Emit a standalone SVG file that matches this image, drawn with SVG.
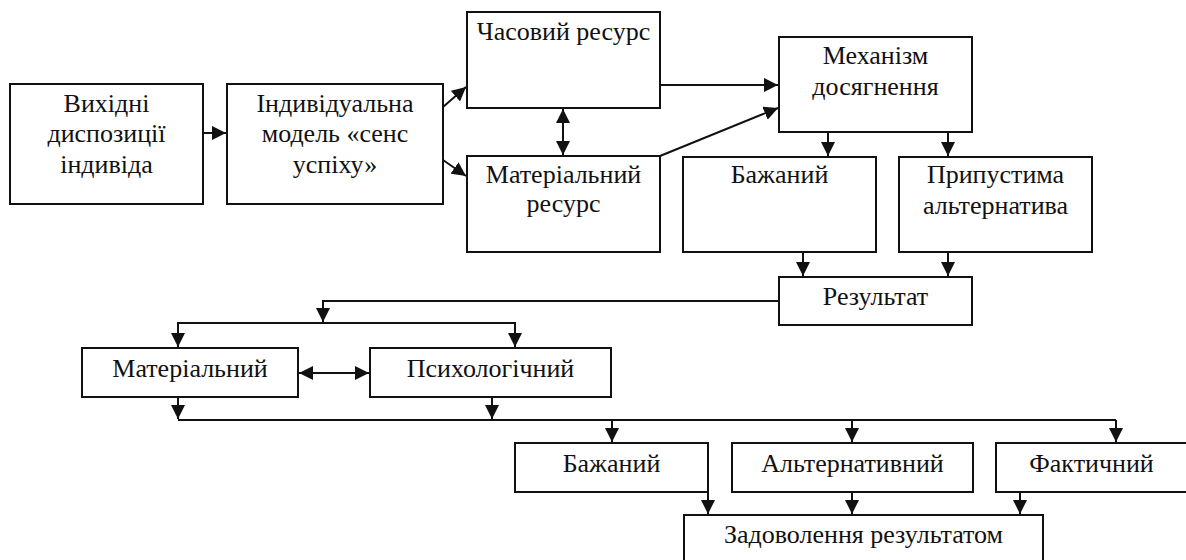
<svg xmlns="http://www.w3.org/2000/svg" width="1186" height="560" viewBox="0 0 1186 560">
<style>
.box{fill:#fff;stroke:#111;stroke-width:2}
.t{font-family:"Liberation Serif","Times New Roman",serif;font-size:26px;fill:#111;text-anchor:middle}
.c{fill:none;stroke:#111;stroke-width:2}
</style>
<defs>
<marker id="ah" markerWidth="14" markerHeight="14" refX="14" refY="7" orient="auto" markerUnits="userSpaceOnUse">
<path d="M0,0 L14,7 L0,14 z" fill="#111"/>
</marker>
<marker id="as" markerWidth="14" markerHeight="14" refX="0" refY="7" orient="auto" markerUnits="userSpaceOnUse">
<path d="M14,0 L0,7 L14,14 z" fill="#111"/>
</marker>
</defs>
<rect width="1186" height="560" fill="#fff"/>
<g id="connectors">
<path class="c" d="M203,133 H226" marker-end="url(#ah)"/>
<path class="c" d="M443,107 L466,87" marker-end="url(#ah)"/>
<path class="c" d="M443,160 L466,176" marker-end="url(#ah)"/>
<path class="c" d="M563,109 V155" marker-start="url(#as)" marker-end="url(#ah)"/>
<path class="c" d="M660,85 H778" marker-end="url(#ah)"/>
<path class="c" d="M660,156 L778,108" marker-end="url(#ah)"/>
<path class="c" d="M828,132 V156" marker-end="url(#ah)"/>
<path class="c" d="M948,132 V156" marker-end="url(#ah)"/>
<path class="c" d="M803,252 V276" marker-end="url(#ah)"/>
<path class="c" d="M948,252 V276" marker-end="url(#ah)"/>
<path class="c" d="M779,301 H323 V322" marker-end="url(#ah)"/>
<path class="c" d="M178,347 V323 H515 V347" marker-end="url(#ah)" marker-start="url(#as)"/>
<path class="c" d="M299,373 H369" marker-start="url(#as)" marker-end="url(#ah)"/>
<path class="c" d="M178,397 V419" marker-end="url(#ah)"/>
<path class="c" d="M492,397 V419" marker-end="url(#ah)"/>
<path class="c" d="M178,420 H1116"/>
<path class="c" d="M612,420 V442" marker-end="url(#ah)"/>
<path class="c" d="M852,420 V442" marker-end="url(#ah)"/>
<path class="c" d="M1116,420 V442" marker-end="url(#ah)"/>
<path class="c" d="M708,492 V514" marker-end="url(#ah)"/>
<path class="c" d="M852,492 V514" marker-end="url(#ah)"/>
<path class="c" d="M1020,492 V514" marker-end="url(#ah)"/>
</g>
<g id="n1"><rect class="box" x="10" y="84" width="193" height="120"/><text class="t" x="106.5" y="112">Вихідні</text><text class="t" x="106.5" y="142">диспозиції</text><text class="t" x="106.5" y="173">індивіда</text></g>
<g id="n2"><rect class="box" x="227" y="84" width="216" height="120"/><text class="t" x="335" y="112">Індивідуальна</text><text class="t" x="335" y="142">модель «сенс</text><text class="t" x="335" y="173">успіху»</text></g>
<g id="n3"><rect class="box" x="467" y="12" width="193" height="96"/><text class="t" x="563.5" y="40">Часовий ресурс</text></g>
<g id="n4"><rect class="box" x="467" y="156" width="193" height="96"/><text class="t" x="563.5" y="183">Матеріальний</text><text class="t" x="563.5" y="212">ресурс</text></g>
<g id="n5"><rect class="box" x="779" y="37" width="193" height="95"/><text class="t" x="875.5" y="64">Механізм</text><text class="t" x="875.5" y="95">досягнення</text></g>
<g id="n6"><rect class="box" x="683" y="157" width="193" height="95"/><text class="t" x="779.5" y="183">Бажаний</text></g>
<g id="n7"><rect class="box" x="899" y="157" width="193" height="95"/><text class="t" x="995.5" y="183">Припустима</text><text class="t" x="995.5" y="214">альтернатива</text></g>
<g id="n8"><rect class="box" x="779" y="277" width="193" height="48"/><text class="t" x="875.5" y="305">Результат</text></g>
<g id="n9"><rect class="box" x="82" y="348" width="216" height="49"/><text class="t" x="190" y="377">Матеріальний</text></g>
<g id="n10"><rect class="box" x="370" y="348" width="241" height="49"/><text class="t" x="490.5" y="377">Психологічний</text></g>
<g id="n11"><rect class="box" x="515" y="443" width="193" height="49"/><text class="t" x="611.5" y="472">Бажаний</text></g>
<g id="n12"><rect class="box" x="732" y="443" width="241" height="49"/><text class="t" x="852.5" y="472">Альтернативний</text></g>
<g id="n13"><rect class="box" x="996" y="443" width="192" height="49"/><text class="t" x="1091.5" y="472">Фактичний</text></g>
<g id="n14"><rect class="box" x="684" y="515" width="359" height="52"/><text class="t" x="863.5" y="543">Задоволення результатом</text></g>
</svg>
